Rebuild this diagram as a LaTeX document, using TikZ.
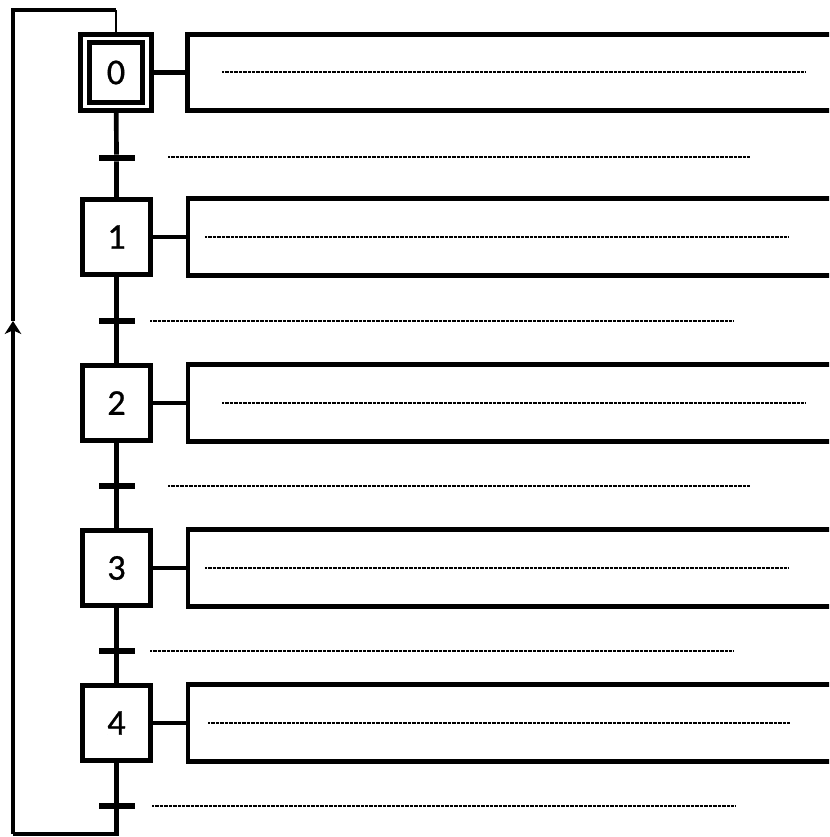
\documentclass[tikz,border=0pt]{standalone}
\usepackage{fontspec}
\setmainfont{Carlito}
\newfontfamily\stepfont[FakeBold=0.7]{Carlito}
\usepackage{tikz}
\usetikzlibrary{arrows.meta,calc}

\begin{document}
\begin{tikzpicture}[x=0.03cm,y=-0.03cm,
    stepbox/.style={draw,line width=4pt,inner sep=0pt,minimum width=2.05cm,minimum height=2.26cm,font=\stepfont\fontsize{31}{32}\selectfont},
    initstep/.style={stepbox,double,double distance=3.4pt,minimum width=1.86cm,minimum height=2.04cm},
    actbox/.style={draw,line width=4pt,anchor=west,minimum width=20cm,minimum height=2.3cm},
    trbar/.style={fill,inner sep=0pt,minimum width=1.08cm,minimum height=0.19cm},
    link/.style={line width=4pt},
    fillin/.style={line width=1.3pt,dash pattern=on 0.6pt off 0.5pt}]
  \useasboundingbox (0,0) rectangle (829,837);
  \clip (0,0) rectangle (829,837);
  \node[initstep] (s0) at (116,72.5) {0};
  \foreach \n/\y in {1/237, 2/403, 3/568, 4/723} \node[stepbox] (s\n) at (116.5,\y) {\n};
  \foreach \n in {0,...,4} \node[actbox] (a\n) at ($(s\n)+(69,0)$) {};
  \foreach \n/\y in {0/158, 1/321, 2/486, 3/651, 4/806} \node[trbar] (t\n) at (116.5,\y) {};
  \foreach \n [count=\m] in {0,...,3} \draw[link] (s\n) -- (t\n) -- (s\m);
  \foreach \n in {0,...,4} \draw[link] (s\n) -- (a\n);
  \coordinate (lb) at (13,834);
  \coordinate (lm) at (13,321);
  \coordinate (lt) at (13,10);
  \coordinate (lr) at (lt -| s0);
  \draw[link] (s4) -- (t4) |- (lb);
  \draw[link,-{Stealth[length=11pt,width=14pt,inset=3pt]}] (lb) -- (lm);
  \draw[link] (lm) -- (lt) -- (lr);
  \draw[line width=1.8pt] (lr) -- (s0);
  \foreach \y/\xa/\xb in {72/222/805, 237/205/788, 403/222/805, 568/205/788, 723/208/790}
    \draw[fillin] (\xa,\y) -- (\xb,\y);
  \foreach \y/\xa/\xb in {157/168/750, 321/150/733, 486/168/750, 651/150/733, 806/152/735}
    \draw[fillin] (\xa,\y) -- (\xb,\y);
\end{tikzpicture}
\end{document}
